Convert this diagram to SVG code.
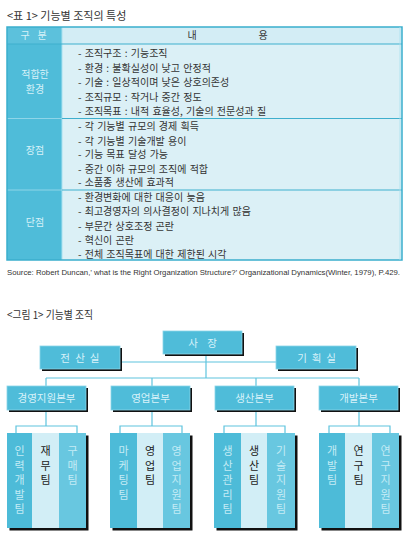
<svg xmlns="http://www.w3.org/2000/svg" width="413" height="544" viewBox="0 0 413 544">
<style>
.t{font-family:"Noto Sans CJK KR","Noto Sans",sans-serif;fill:#333}
.title{font-size:11px;fill:#333}
.item{font-size:10px;fill:#333;word-spacing:1px}
.lab{font-size:10px;fill:#d6f1f8;text-anchor:middle}
.src{font-family:"Liberation Sans",Arial,sans-serif;font-size:8px;fill:#333}
.box{fill:#4fbcd9;stroke:#8ad5e9;stroke-width:0.8}
.sh{fill:#111}
.bt{font-size:10.5px;fill:#d8f2f9;text-anchor:middle}
.con{stroke:#5ec4de;stroke-width:1.2;fill:none}
.s1{fill:#4dbbd8}
.s2{fill:#d2eef6}
.s3{fill:#68c7e0}
.vt{font-size:11px;text-anchor:middle}
.vl{fill:#c4ebf5}
.vd{fill:#222}
</style>

<g id="table-title"><text class="t title" x="7" y="20">&lt;표 1&gt; 기능별 조직의 특성</text></g>

<g id="table">
  <rect x="7" y="27" width="395" height="233" fill="#dbf0f6"/>
  <rect x="7" y="27" width="55" height="17" fill="#5cc1dc"/>
  <rect x="62" y="27" width="340" height="17" fill="#d3edf5"/>
  <rect x="7" y="44" width="55" height="216" fill="#4fbcd9"/>
  <line x1="62" y1="27" x2="62" y2="260" stroke="#a8e0ef" stroke-width="1"/>
  <line x1="7" y1="44" x2="402" y2="44" stroke="#3eafcd" stroke-width="1.2"/>
  <line x1="62" y1="118.5" x2="402" y2="118.5" stroke="#3eafcd" stroke-width="1.2"/>
  <line x1="62" y1="190" x2="402" y2="190" stroke="#3eafcd" stroke-width="1.2"/>
  <line x1="7" y1="118.5" x2="62" y2="118.5" stroke="#8fd5e8" stroke-width="1"/>
  <line x1="7" y1="190" x2="62" y2="190" stroke="#8fd5e8" stroke-width="1"/>
  <rect x="7" y="27" width="395" height="233" fill="none" stroke="#3aaecd" stroke-width="1.5"/>
  <line x1="400" y1="27" x2="400" y2="260" stroke="#a8e0ef" stroke-width="0.8"/>
  <text class="t lab" x="25" y="39">구</text>
  <text class="t lab" x="42" y="39">분</text>
  <text class="t" x="192" y="39" font-size="10" text-anchor="middle">내</text>
  <text class="t" x="263" y="39" font-size="10" text-anchor="middle">용</text>
  <text class="t lab" x="35" y="78">적합한</text>
  <text class="t lab" x="35" y="93">환경</text>
  <text class="t lab" x="35" y="154">장점</text>
  <text class="t lab" x="35" y="226">단점</text>
  <g class="t item">
    <text x="78" y="57">- 조직구조 : 기능조직</text>
    <text x="78" y="71.5">- 환경 : 불확실성이 낮고 안정적</text>
    <text x="78" y="86">- 기술 : 일상적이며 낮은 상호의존성</text>
    <text x="78" y="100.5">- 조직규모 : 작거나 중간 정도</text>
    <text x="78" y="115">- 조직목표 : 내적 효율성, 기술의 전문성과 질</text>
    <text x="78" y="130">- 각 기능별 규모의 경제 획득</text>
    <text x="78" y="144.5">- 각 기능별 기술개발 용이</text>
    <text x="78" y="158">- 기능 목표 달성 가능</text>
    <text x="78" y="172.5">- 중간 이하 규모의 조직에 적합</text>
    <text x="78" y="186">- 소품종 생산에 효과적</text>
    <text x="78" y="201">- 환경변화에 대한 대응이 늦음</text>
    <text x="78" y="215">- 최고경영자의 의사결정이 지나치게 많음</text>
    <text x="78" y="229.5">- 부문간 상호조정 곤란</text>
    <text x="78" y="243.5">- 혁신이 곤란</text>
    <text x="78" y="258">- 전체 조직목표에 대한 제한된 시각</text>
  </g>
</g>

<g id="source"><text class="src" x="7" y="275" textLength="393" lengthAdjust="spacingAndGlyphs">Source: Robert Duncan,’  what is the Right Organization Structure?’ Organizational Dynamics(Winter, 1979), P.429.</text></g>

<g id="figure-title"><text class="t title" x="7" y="319" textLength="86" lengthAdjust="spacingAndGlyphs">&lt;그림 1&gt; 기능별 조직</text></g>

<g id="connectors">
  <line class="con" x1="120" y1="362" x2="276" y2="362"/>
  <line class="con" x1="206" y1="354" x2="206" y2="378"/>
  <line class="con" x1="46" y1="378" x2="359" y2="378"/>
  <line class="con" x1="46" y1="378" x2="46" y2="386"/>
  <line class="con" x1="152" y1="378" x2="152" y2="386"/>
  <line class="con" x1="256" y1="378" x2="256" y2="386"/>
  <line class="con" x1="359" y1="378" x2="359" y2="386"/>
  <path class="con" d="M46 410V426M16 433V426H77V433"/>
  <path class="con" d="M152 410V426M120 433V426H182V433"/>
  <path class="con" d="M256 410V426M224 433V426H285V433"/>
  <path class="con" d="M359 410V426M329 433V426H390V433"/>
</g>

<g id="ceo">
  <rect class="sh" x="165" y="333" width="79" height="23"/>
  <rect class="box" x="163" y="331" width="79" height="23"/>
  <text class="t bt" x="193" y="346.5">사</text>
  <text class="t bt" x="212" y="346.5">장</text>
</g>
<g id="jeonsansil">
  <rect class="sh" x="42" y="348" width="80" height="23"/>
  <rect class="box" x="40" y="346" width="80" height="23"/>
  <text class="t bt" x="65" y="361.5">전</text>
  <text class="t bt" x="80" y="361.5">산</text>
  <text class="t bt" x="94.5" y="361.5">실</text>
</g>
<g id="gihoeksil">
  <rect class="sh" x="278" y="348" width="80" height="23"/>
  <rect class="box" x="276" y="346" width="80" height="23"/>
  <text class="t bt" x="302" y="361.5">기</text>
  <text class="t bt" x="316.5" y="361.5">획</text>
  <text class="t bt" x="331" y="361.5">실</text>
</g>

<g id="div1">
  <rect class="sh" x="9" y="388" width="79" height="24"/>
  <rect class="box" x="7" y="386" width="79" height="24"/>
  <text class="t bt" x="46.5" y="401.5">경영지원본부</text>
</g>
<g id="div2">
  <rect class="sh" x="113" y="388" width="79" height="24"/>
  <rect class="box" x="111" y="386" width="79" height="24"/>
  <text class="t bt" x="150.5" y="401.5">영업본부</text>
</g>
<g id="div3">
  <rect class="sh" x="217" y="388" width="79" height="24"/>
  <rect class="box" x="215" y="386" width="79" height="24"/>
  <text class="t bt" x="254.5" y="401.5">생산본부</text>
</g>
<g id="div4">
  <rect class="sh" x="321" y="388" width="79" height="24"/>
  <rect class="box" x="319" y="386" width="79" height="24"/>
  <text class="t bt" x="358.5" y="401.5">개발본부</text>
</g>

<g id="teams1">
  <rect class="sh" x="9.5" y="435.5" width="79" height="95"/>
  <rect class="s1" x="7" y="433" width="25" height="95"/>
  <rect class="s2" x="32" y="433" width="27" height="95"/>
  <rect class="s3" x="59" y="433" width="27" height="95"/>
  <g class="t vt vl"><text x="19.5" y="455">인</text><text x="19.5" y="469.5">력</text><text x="19.5" y="484">개</text><text x="19.5" y="498.5">발</text><text x="19.5" y="513">팀</text></g>
  <g class="t vt vd"><text x="45.5" y="455">재</text><text x="45.5" y="469.5">무</text><text x="45.5" y="484">팀</text></g>
  <g class="t vt vl"><text x="72.5" y="455">구</text><text x="72.5" y="469.5">매</text><text x="72.5" y="484">팀</text></g>
</g>
<g id="teams2">
  <rect class="sh" x="112.5" y="435.5" width="80" height="95"/>
  <rect class="s1" x="110" y="433" width="27" height="95"/>
  <rect class="s2" x="137" y="433" width="26" height="95"/>
  <rect class="s3" x="163" y="433" width="27" height="95"/>
  <g class="t vt vl"><text x="123.5" y="455">마</text><text x="123.5" y="469.5">케</text><text x="123.5" y="484">팅</text><text x="123.5" y="498.5">팀</text></g>
  <g class="t vt vd"><text x="150" y="455">영</text><text x="150" y="469.5">업</text><text x="150" y="484">팀</text></g>
  <g class="t vt vl"><text x="176.5" y="455">영</text><text x="176.5" y="469.5">업</text><text x="176.5" y="484">지</text><text x="176.5" y="498.5">원</text><text x="176.5" y="513">팀</text></g>
</g>
<g id="teams3">
  <rect class="sh" x="216.5" y="435.5" width="81" height="95"/>
  <rect class="s1" x="214" y="433" width="27" height="95"/>
  <rect class="s2" x="241" y="433" width="26" height="95"/>
  <rect class="s3" x="267" y="433" width="28" height="95"/>
  <g class="t vt vl"><text x="227.5" y="455">생</text><text x="227.5" y="469.5">산</text><text x="227.5" y="484">관</text><text x="227.5" y="498.5">리</text><text x="227.5" y="513">팀</text></g>
  <g class="t vt vd"><text x="254" y="455">생</text><text x="254" y="469.5">산</text><text x="254" y="484">팀</text></g>
  <g class="t vt vl"><text x="281" y="455">기</text><text x="281" y="469.5">술</text><text x="281" y="484">지</text><text x="281" y="498.5">원</text><text x="281" y="513">팀</text></g>
</g>
<g id="teams4">
  <rect class="sh" x="321.5" y="435.5" width="80" height="95"/>
  <rect class="s1" x="319" y="433" width="26" height="95"/>
  <rect class="s2" x="345" y="433" width="27" height="95"/>
  <rect class="s3" x="372" y="433" width="27" height="95"/>
  <g class="t vt vl"><text x="332" y="455">개</text><text x="332" y="469.5">발</text><text x="332" y="484">팀</text></g>
  <g class="t vt vd"><text x="358.5" y="455">연</text><text x="358.5" y="469.5">구</text><text x="358.5" y="484">팀</text></g>
  <g class="t vt vl"><text x="385.5" y="455">연</text><text x="385.5" y="469.5">구</text><text x="385.5" y="484">지</text><text x="385.5" y="498.5">원</text><text x="385.5" y="513">팀</text></g>
</g>
</svg>
